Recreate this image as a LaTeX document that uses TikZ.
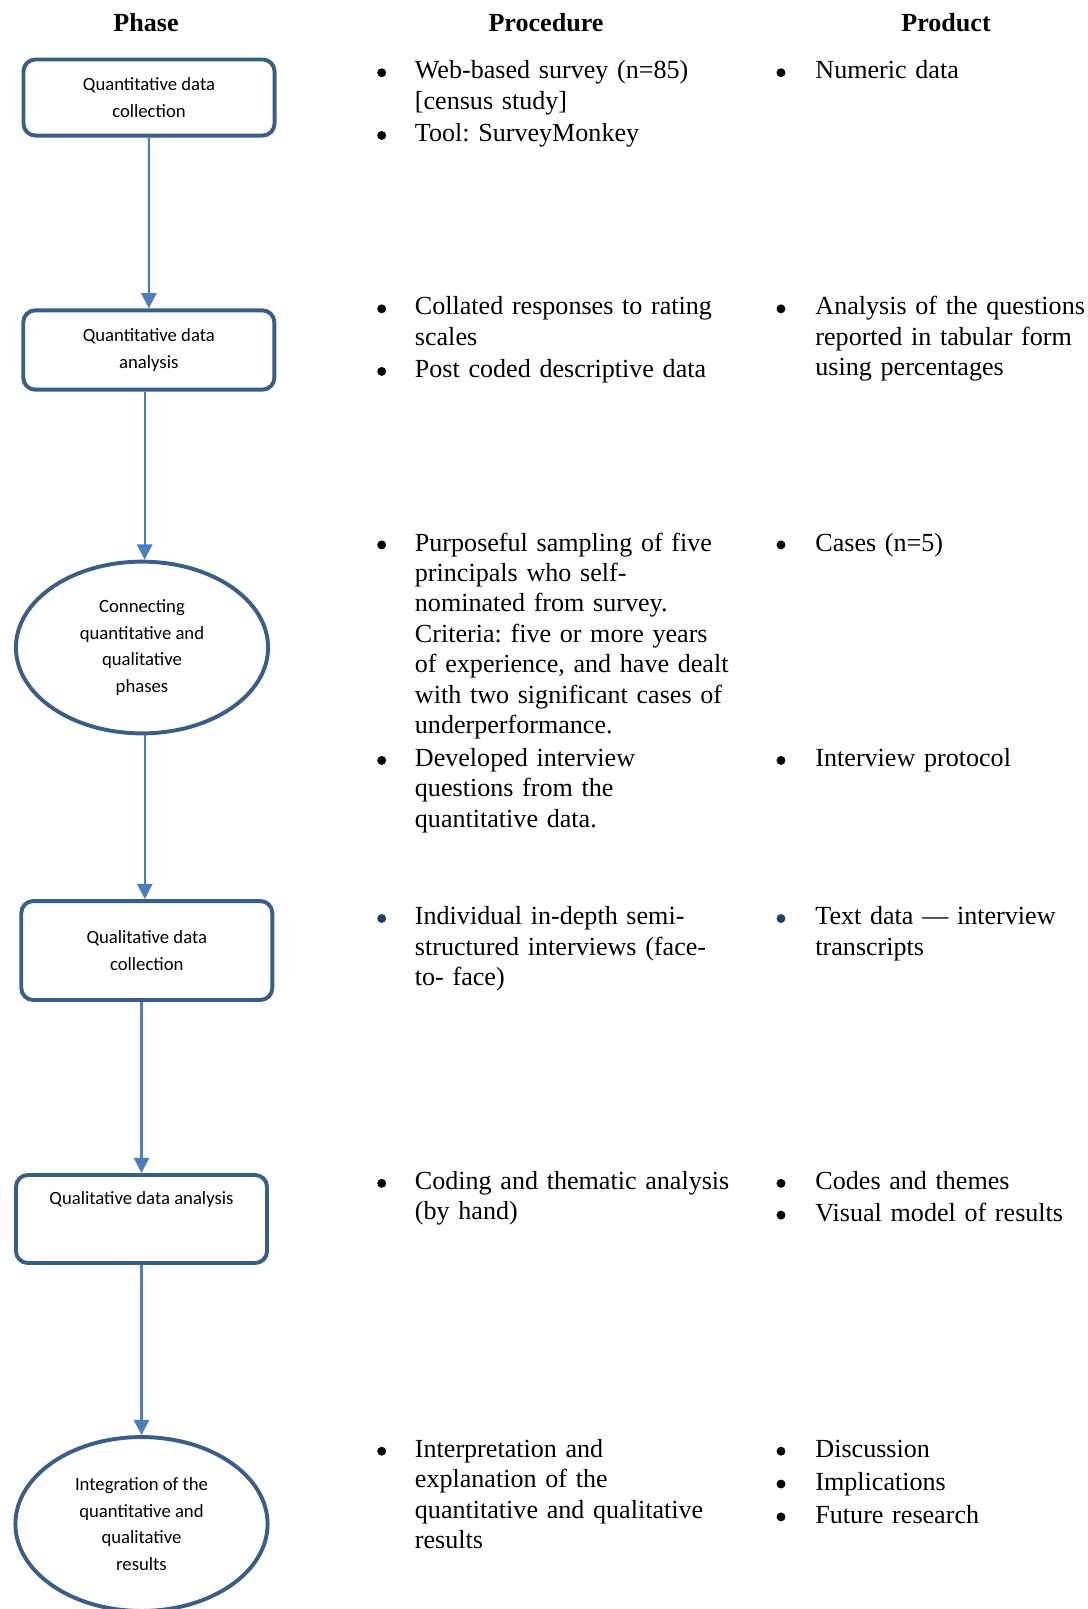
\documentclass[tikz,border=0pt]{standalone}
\usepackage{fontspec}
\setmainfont{Liberation Serif}
\newfontfamily\boxfont{Carlito}
\usepackage{xcolor}
\usepackage{tikz}
\usetikzlibrary{shapes.geometric, arrows.meta, positioning, calc}
\definecolor{boxblue}{RGB}{58, 94, 140}
\definecolor{flowblue}{RGB}{74, 126, 190}
\definecolor{navy}{RGB}{36, 62, 106}
\frenchspacing

\begin{document}
\begin{tikzpicture}[
    x=0.46pt, y=-0.46pt,
    every node/.style={inner sep=0pt},
    head/.style={anchor=base, font=\bfseries\fontsize{12}{14}\selectfont},
    phase/.style={rectangle, draw=boxblue, line width=1.8pt, rounded corners=5.5pt, minimum width=115.5pt, align=center, font=\boxfont\fontsize{8.6}{12.3}\selectfont},
    oval/.style={ellipse, draw=boxblue, line width=1.8pt, minimum width=116pt, minimum height=79pt, align=center, font=\boxfont\fontsize{8.6}{12.3}\selectfont},
    flow/.style={draw=flowblue, line width=0.95pt, -{Triangle[width=7pt, length=7pt]}},
    dot/.style={circle, fill=black, minimum size=4.1pt, yshift=2.8pt},
    item/.style={anchor=base west, align=left, text width=165pt, font=\fontsize{12}{14}\selectfont},
    prod/.style={item, text width=135pt}
]
\useasboundingbox (0,0) rectangle (1088,1609);

% Column titles
\node[head] (hphase) at (146,31) {Phase};
\node[head] (hproc) at (546,31) {Procedure};
\node[head] (hprod) at (946,31) {Product};

% Phases
\node[phase, minimum height=35pt] (qnc) at (149,97.5) {Quantitative data\\collection};
\node[phase, minimum height=36.5pt] (qna) at (148.8,350) {Quantitative data\\analysis};
\node[oval] (conn) at (142,647.5) {Connecting\\quantitative and\\qualitative\\phases};
\node[phase, minimum height=45.5pt] (qlc) at (146.8,950.5) {Qualitative data\\collection};
\node[phase, minimum height=40.5pt, text height=6pt, text depth=18.9pt] (qla) at (141.5,1219) {Qualitative data analysis};
\node[oval, minimum height=80pt] (integ) at (141.5,1524) {Integration of the\\quantitative and\\qualitative\\results};

% Arrows
\draw[flow] (qnc) -- (qna);
\draw[flow] ([xshift=-1.9pt]qna.south) -- ([xshift=-1.9pt]qna.south |- conn.north);
\draw[flow] ([xshift=1.3pt]conn.south) -- ([xshift=1.3pt]conn.south |- qlc.north);
\draw[flow] (qlc.south -| qla) -- (qla.north);
\draw[flow] (qla) -- (integ);

% Quantitative data collection
\node[dot] (bp1a) at (381.7,78.8) {};
\node[item] (p1a) at (414.5,78.8) {Web-based survey (n=85)\\{[census study]}};
\node[dot] (bp1b) at (381.7,141.5) {};
\node[item] (p1b) at (414.5,141.5) {Tool: SurveyMonkey};
\node[dot] (bd1a) at (781,78.8) {};
\node[prod] (d1a) at (815,78.8) {Numeric data};

% Quantitative data analysis
\node[dot] (bp2a) at (381.7,314.9) {};
\node[item] (p2a) at (414.5,314.9) {Collated responses to rating\\scales};
\node[dot] (bp2b) at (381.7,377.5) {};
\node[item] (p2b) at (414.5,377.5) {Post coded descriptive data};
\node[dot] (bd2a) at (781,314.9) {};
\node[prod] (d2a) at (815,314.9) {Analysis of the questions\\reported in tabular form\\using percentages};

% Connecting phases
\node[dot] (bp3a) at (381.7,551) {};
\node[item] (p3a) at (414.5,551) {Purposeful sampling of five\\principals who self-\\nominated from survey.\\Criteria: five or more years\\of experience, and have dealt\\with two significant cases of\\underperformance.};
\node[dot] (bp3b) at (381.7,766.5) {};
\node[item] (p3b) at (414.5,766.5) {Developed interview\\questions from the\\quantitative data.};
\node[dot] (bd3a) at (781,551) {};
\node[prod] (d3a) at (815,551) {Cases (n=5)};
\node[dot] (bd3b) at (781,766.5) {};
\node[prod] (d3b) at (815,766.5) {Interview protocol};

% Qualitative data collection
\node[dot, fill=navy] (bp4a) at (381.7,924.6) {};
\node[item] (p4a) at (414.5,924.6) {Individual in-depth semi-\\structured interviews (face-\\to- face)};
\node[dot, fill=navy] (bd4a) at (781,924.6) {};
\node[prod] (d4a) at (815,924.6) {Text data — interview\\transcripts};

% Qualitative data analysis
\node[dot] (bp5a) at (381.7,1189.4) {};
\node[item] (p5a) at (414.5,1189.4) {Coding and thematic analysis\\(by hand)};
\node[dot] (bd5a) at (781,1189.4) {};
\node[prod] (d5a) at (815,1189.4) {Codes and themes};
\node[dot] (bd5b) at (781,1221.2) {};
\node[prod] (d5b) at (815,1221.2) {Visual model of results};

% Integration
\node[dot] (bp6a) at (381.7,1457.3) {};
\node[item] (p6a) at (414.5,1457.3) {Interpretation and\\explanation of the\\quantitative and qualitative\\results};
\node[dot] (bd6a) at (781,1457.3) {};
\node[prod] (d6a) at (815,1457.3) {Discussion};
\node[dot] (bd6b) at (781,1490.1) {};
\node[prod] (d6b) at (815,1490.1) {Implications};
\node[dot] (bd6c) at (781,1523) {};
\node[prod] (d6c) at (815,1523) {Future research};

\end{tikzpicture}
\end{document}
